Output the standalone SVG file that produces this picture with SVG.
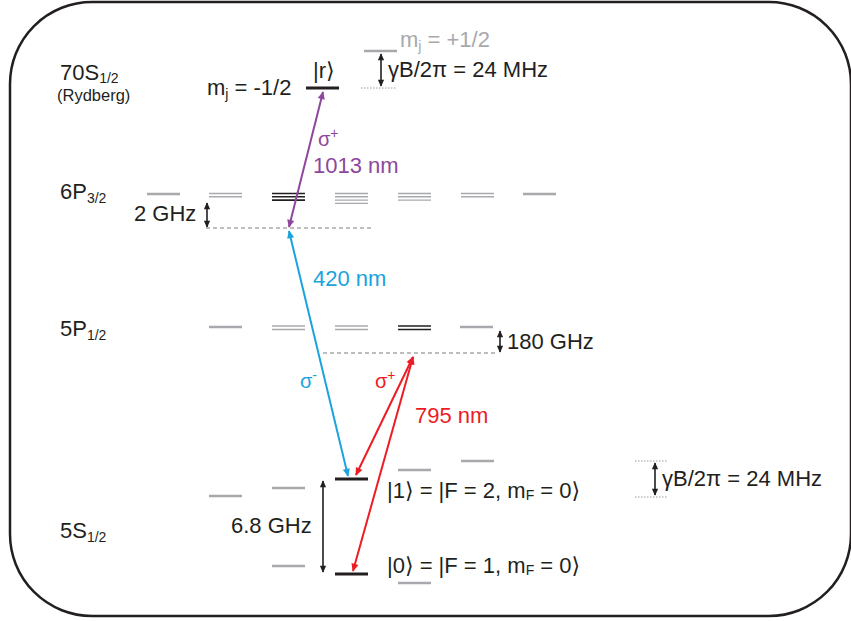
<svg xmlns="http://www.w3.org/2000/svg" width="851" height="621" viewBox="0 0 851 621">
<defs>
<style>
text{font-family:"Liberation Sans","DejaVu Sans",Arial,sans-serif;fill:#231f20}
.t{font-size:22px}
.s{font-size:14px}
.g{stroke:#a7a9ac;stroke-width:2.6;fill:none}
.gt{stroke:#a7a9ac;stroke-width:1.4;fill:none}
.k{stroke:#231f20;stroke-width:2.8;fill:none}
.kt{stroke:#231f20;stroke-width:1.6;fill:none}
.dash{stroke:#7d7d7d;stroke-width:1.2;stroke-dasharray:4 3;fill:none}
.dot{stroke:#9a9a9a;stroke-width:1;stroke-dasharray:1.5 1.5;fill:none}
.da{stroke:#231f20;stroke-width:1.6;fill:none}
.pu{stroke:#8e479c;stroke-width:2;fill:none}
.bl{stroke:#1ba3dd;stroke-width:2;fill:none}
.rd{stroke:#ed1c24;stroke-width:2;fill:none}
</style>
<marker id="ak" viewBox="0 0 10 10" refX="9" refY="5" markerWidth="8" markerHeight="7" markerUnits="userSpaceOnUse" orient="auto-start-reverse"><path d="M0,0.5 L10,5 L0,9.5 z" fill="#231f20"/></marker>
<marker id="ap" viewBox="0 0 10 10" refX="9" refY="5" markerWidth="10" markerHeight="8" markerUnits="userSpaceOnUse" orient="auto-start-reverse"><path d="M0,0.5 L10,5 L0,9.5 z" fill="#8e479c"/></marker>
<marker id="ab" viewBox="0 0 10 10" refX="9" refY="5" markerWidth="10" markerHeight="8" markerUnits="userSpaceOnUse" orient="auto-start-reverse"><path d="M0,0.5 L10,5 L0,9.5 z" fill="#1ba3dd"/></marker>
<marker id="ar" viewBox="0 0 10 10" refX="9" refY="5" markerWidth="10" markerHeight="8" markerUnits="userSpaceOnUse" orient="auto-start-reverse"><path d="M0,0.5 L10,5 L0,9.5 z" fill="#ed1c24"/></marker>
</defs>
<rect x="10" y="2" width="841" height="614" rx="82" ry="82" fill="#fff" stroke="#231f20" stroke-width="2.5"/>

<g id="labels">
<text class="t" x="60" y="80">70S<tspan class="s" dy="3">1/2</tspan></text>
<text x="57" y="101" style="font-size:16.5px">(Rydberg)</text>
<text class="t" x="60" y="199">6P<tspan class="s" dy="4">3/2</tspan></text>
<text class="t" x="60" y="336">5P<tspan class="s" dy="4">1/2</tspan></text>
<text class="t" x="60" y="538">5S<tspan class="s" dy="4">1/2</tspan></text>
</g>

<g id="rydberg">
<line class="k" x1="306" y1="88" x2="339" y2="88"/>
<text class="t" x="313" y="78">|r⟩</text>
<text class="t" x="207" y="95">m<tspan class="s" dy="4">j</tspan><tspan dy="-4"> = -1/2</tspan></text>
<line class="g" x1="364" y1="51" x2="397" y2="51"/>
<text class="t" x="400" y="47" style="fill:#a7a9ac">m<tspan class="s" dy="4" style="fill:#a7a9ac">j</tspan><tspan dy="-4" style="fill:#a7a9ac"> = +1/2</tspan></text>
<line class="dot" x1="361" y1="88" x2="396" y2="88"/>
<line class="da" x1="381" y1="54" x2="381" y2="86" marker-start="url(#ak)" marker-end="url(#ak)"/>
<text class="t" x="388" y="77">γB/2π = 24 MHz</text>
</g>

<g id="p32">
<line class="g" x1="147" y1="194" x2="180" y2="194"/>
<line class="gt" x1="209" y1="193.5" x2="242" y2="193.5"/>
<line class="gt" x1="209" y1="196.8" x2="242" y2="196.8"/>
<line class="kt" x1="272" y1="193.5" x2="305" y2="193.5"/>
<line class="kt" x1="272" y1="196.8" x2="305" y2="196.8"/>
<line class="kt" x1="272" y1="200.1" x2="305" y2="200.1"/>
<line class="gt" x1="335" y1="193.5" x2="368" y2="193.5"/>
<line class="gt" x1="335" y1="196.8" x2="368" y2="196.8"/>
<line class="gt" x1="335" y1="200.1" x2="368" y2="200.1"/>
<line class="gt" x1="335" y1="203.4" x2="368" y2="203.4"/>
<line class="gt" x1="398" y1="193.5" x2="431" y2="193.5"/>
<line class="gt" x1="398" y1="196.8" x2="431" y2="196.8"/>
<line class="gt" x1="398" y1="200.1" x2="431" y2="200.1"/>
<line class="gt" x1="461" y1="193.5" x2="494" y2="193.5"/>
<line class="gt" x1="461" y1="196.8" x2="494" y2="196.8"/>
<line class="g" x1="523" y1="194" x2="556" y2="194"/>
<text class="t" x="134" y="221">2 GHz</text>
<line class="da" x1="207" y1="203" x2="207" y2="227" marker-start="url(#ak)" marker-end="url(#ak)"/>
<line class="dash" x1="206" y1="228" x2="374" y2="228"/>
</g>

<g id="p12">
<line class="g" x1="209" y1="327" x2="242" y2="327"/>
<line class="gt" x1="272" y1="326" x2="305" y2="326"/>
<line class="gt" x1="272" y1="329.5" x2="305" y2="329.5"/>
<line class="gt" x1="335" y1="326" x2="368" y2="326"/>
<line class="gt" x1="335" y1="329.5" x2="368" y2="329.5"/>
<line class="kt" x1="398" y1="326" x2="431" y2="326"/>
<line class="kt" x1="398" y1="329.5" x2="431" y2="329.5"/>
<line class="g" x1="460" y1="327" x2="493" y2="327"/>
<line class="dash" x1="323" y1="353" x2="495" y2="353"/>
<line class="da" x1="500" y1="331" x2="500" y2="352" marker-start="url(#ak)" marker-end="url(#ak)"/>
<text class="t" x="507" y="349">180 GHz</text>
</g>

<g id="s12">
<line class="g" x1="209" y1="496" x2="242" y2="496"/>
<line class="g" x1="272" y1="488" x2="305" y2="488"/>
<line class="k" x1="335" y1="479" x2="368" y2="479"/>
<line class="g" x1="398" y1="470" x2="431" y2="470"/>
<line class="g" x1="461" y1="461" x2="494" y2="461"/>
<line class="g" x1="272" y1="566" x2="305" y2="566"/>
<line class="k" x1="335" y1="574" x2="368" y2="574"/>
<line class="g" x1="398" y1="583" x2="431" y2="583"/>
<line class="da" x1="323" y1="481" x2="323" y2="572" marker-start="url(#ak)" marker-end="url(#ak)"/>
<text class="t" x="231" y="533">6.8 GHz</text>
<text class="t" x="387" y="498">|1⟩ = |F = 2, m<tspan class="s" dy="2">F</tspan><tspan dy="-2"> = 0⟩</tspan></text>
<text class="t" x="387" y="573">|0⟩ = |F = 1, m<tspan class="s" dy="2">F</tspan><tspan dy="-2"> = 0⟩</tspan></text>
<line class="dot" x1="635" y1="461" x2="668" y2="461"/>
<line class="dot" x1="635" y1="497" x2="668" y2="497"/>
<line class="da" x1="655" y1="463" x2="655" y2="495" marker-start="url(#ak)" marker-end="url(#ak)"/>
<text class="t" x="662" y="486">γB/2π = 24 MHz</text>
</g>

<g id="connectors">
<line class="pu" x1="289" y1="227" x2="323" y2="92" marker-start="url(#ap)" marker-end="url(#ap)"/>
<line class="bl" x1="289" y1="231" x2="348" y2="476" marker-start="url(#ab)" marker-end="url(#ab)"/>
<line class="rd" x1="413" y1="357" x2="356" y2="475" marker-start="url(#ar)" marker-end="url(#ar)"/>
<line class="rd" x1="413" y1="357" x2="353" y2="571" marker-start="url(#ar)" marker-end="url(#ar)"/>
</g>

<g id="connector-labels">
<text class="t" x="318" y="146" style="fill:#8e479c;font-size:20px">σ<tspan class="s" dy="-8" style="fill:#8e479c">+</tspan></text>
<text class="t" x="313" y="173" style="fill:#8e479c">1013 nm</text>
<text class="t" x="313" y="286" style="fill:#1ba3dd">420 nm</text>
<text class="t" x="300" y="388" style="fill:#1ba3dd;font-size:20px">σ<tspan class="s" dy="-8" style="fill:#1ba3dd">-</tspan></text>
<text class="t" x="375" y="388" style="fill:#ed1c24;font-size:20px">σ<tspan class="s" dy="-8" style="fill:#ed1c24">+</tspan></text>
<text class="t" x="415" y="423" style="fill:#ed1c24">795 nm</text>
</g>
</svg>
